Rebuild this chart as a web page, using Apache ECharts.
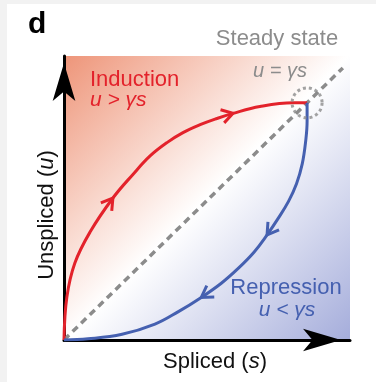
<!DOCTYPE html>
<html>
<head>
<meta charset="utf-8">
<script src="https://cdn.jsdelivr.net/npm/echarts@6/dist/echarts.min.js"></script>
<style>
  html, body { margin: 0; padding: 0; background: #f2f2f2; }
  #bg { position: absolute; left: 7px; top: 4px; width: 369px; height: 378px; background: #ffffff; }
  #chart { position: absolute; left: 0; top: 0; width: 376px; height: 382px; }
</style>
</head>
<body>
<div id="bg"></div>
<div id="chart"></div>
<script>
// ---- data (axis units 0..100) ----
var redS = [0, 1.0, 3.8, 9.1, 17.1, 24.1, 30.1, 36.0, 41.6, 47.6, 53.5, 59.1, 68.5, 80.1, 85.0];
var redU = [0, 15.1, 27.1, 38.0, 50.0, 58.3, 64.8, 69.5, 73.0, 75.8, 78.0, 79.8, 82.2, 83.5, 83.5];
var blueS = [85.0, 85.0, 84.5, 83.3, 81.3, 78.5, 75.0, 71.0, 66.5, 61.0, 55.0, 48.0, 40.0, 31.8, 20.3, 8.4, 0];
var blueU = [83.5, 77.0, 70.0, 62.0, 55.0, 48.8, 43.0, 37.0, 31.0, 25.3, 20.0, 15.0, 10.0, 5.6, 2.0, 0.4, 0];
var diagS = [0, 97.5];
var diagU = [0, 95.8];
var steadyS = [85.0];
var steadyU = [83.5];
var redArrowIdx = [4, 11];
var blueArrowIdx = [7, 11];
var labels = {
  panel: 'd',
  steady: 'Steady state',
  steadyEq: 'u = \u03b3s',
  induction: 'Induction',
  inductionEq: 'u > \u03b3s',
  repression: 'Repression',
  repressionEq: 'u < \u03b3s'
};

function pairs(xs, ys) { return xs.map(function (x, i) { return [x, ys[i]]; }); }
function arrowData(xs, ys, idx) {
  return idx.map(function (i) {
    return [xs[i], ys[i], xs[i - 1], ys[i - 1], xs[i + 1], ys[i + 1]];
  });
}
function arrowRender(color) {
  return function (params, api) {
    var p = api.coord([api.value(0), api.value(1)]);
    var a = api.coord([api.value(2), api.value(3)]);
    var b = api.coord([api.value(4), api.value(5)]);
    var ang = Math.atan2(b[1] - a[1], b[0] - a[0]);
    var L = 13, h = 0.55;
    var l1 = [p[0] + L * Math.cos(ang + Math.PI - h), p[1] + L * Math.sin(ang + Math.PI - h)];
    var l2 = [p[0] + L * Math.cos(ang + Math.PI + h), p[1] + L * Math.sin(ang + Math.PI + h)];
    return {
      type: 'polyline',
      shape: { points: [l1, p, l2] },
      style: { stroke: color, lineWidth: 3, fill: null, lineJoin: 'miter' }
    };
  };
}

var RED = '#e3222b', BLUE = '#4560b0', GRAY = '#8c8c8c';
var FONT = '"Liberation Sans", Arial, Helvetica, sans-serif';

function txt(text, x, y, size, color, align, opts) {
  opts = opts || {};
  return {
    type: 'text', x: x, y: y, rotation: opts.rotation || 0, z: 100,
    style: {
      text: text,
      font: (opts.italic ? 'italic ' : '') + (opts.bold ? 'bold ' : '') + size + 'px ' + FONT,
      fill: color,
      align: align, textAlign: align,
      verticalAlign: 'middle', textVerticalAlign: 'middle',
      rich: opts.rich
    }
  };
}

var chart = echarts.init(document.getElementById('chart'), null, { renderer: 'canvas' });
var axisCommon = {
  type: 'value', min: 0, max: 100,
  axisLabel: { show: false }, axisTick: { show: false }, splitLine: { show: false },
  axisLine: { show: true, lineStyle: { color: '#000', width: 3 }, symbol: ['none', 'arrow'], symbolSize: [17, 38] }
};
var richAxis = {
  n: { fontSize: 22, fontFamily: FONT, color: '#111' },
  i: { fontSize: 22, fontFamily: FONT, fontStyle: 'italic', color: '#111' }
};

chart.setOption({
  animation: false,
  backgroundColor: 'transparent',
  grid: {
    left: 64, right: 26, top: 56, bottom: 42, show: true, borderWidth: 0,
    backgroundColor: new echarts.graphic.LinearGradient(0, 0, 1, 1, [
      { offset: 0, color: '#ee9579' },
      { offset: 0.5, color: '#ffffff' },
      { offset: 1, color: '#a5addb' }
    ])
  },
  xAxis: Object.assign({}, axisCommon, { axisLine: Object.assign({}, axisCommon.axisLine, { symbolOffset: [0, -9] }) }),
  yAxis: Object.assign({}, axisCommon, { axisLine: Object.assign({}, axisCommon.axisLine, { symbolOffset: [0, -7] }) }),
  series: [
    { type: 'line', data: pairs(diagS, diagU), symbol: 'none', lineStyle: { color: GRAY, width: 3.5, type: [7, 5] }, z: 2 },
    { type: 'line', data: pairs(redS, redU), symbol: 'none', smooth: 0.4, lineStyle: { color: RED, width: 3 }, z: 3 },
    { type: 'line', data: pairs(blueS, blueU), symbol: 'none', smooth: 0.4, lineStyle: { color: BLUE, width: 3 }, z: 3 },
    { type: 'custom', data: arrowData(redS, redU, redArrowIdx), renderItem: arrowRender(RED), z: 4 },
    { type: 'custom', data: arrowData(blueS, blueU, blueArrowIdx), renderItem: arrowRender(BLUE), z: 4 },
    { type: 'scatter', data: pairs(steadyS, steadyU), symbol: 'circle', symbolSize: 30,
      itemStyle: { color: 'rgba(0,0,0,0)', borderColor: GRAY, borderWidth: 3, borderType: [3, 3] }, z: 5 }
  ],
  graphic: [
    txt(labels.panel, 28, 24.5, 30, '#000', 'left', { bold: true }),
    txt(labels.steady, 277, 39.3, 22, GRAY, 'center'),
    txt(labels.steadyEq, 280, 71.4, 20, GRAY, 'center', { italic: true }),
    txt(labels.induction, 90, 80.3, 22, RED, 'left'),
    txt(labels.inductionEq, 90, 100.6, 21, RED, 'left', { italic: true }),
    txt(labels.repression, 286, 288.3, 22, BLUE, 'center'),
    txt(labels.repressionEq, 287, 310.6, 21, BLUE, 'center', { italic: true }),
    txt('{n|Spliced (}{i|s}{n|)}', 215, 362.3, 22, '#111', 'center', { rich: richAxis }),
    txt('{n|Unspliced (}{i|u}{n|)}', 47, 215, 22, '#111', 'center', { rich: richAxis, rotation: Math.PI / 2 })
  ]
});
</script>
</body>
</html>
